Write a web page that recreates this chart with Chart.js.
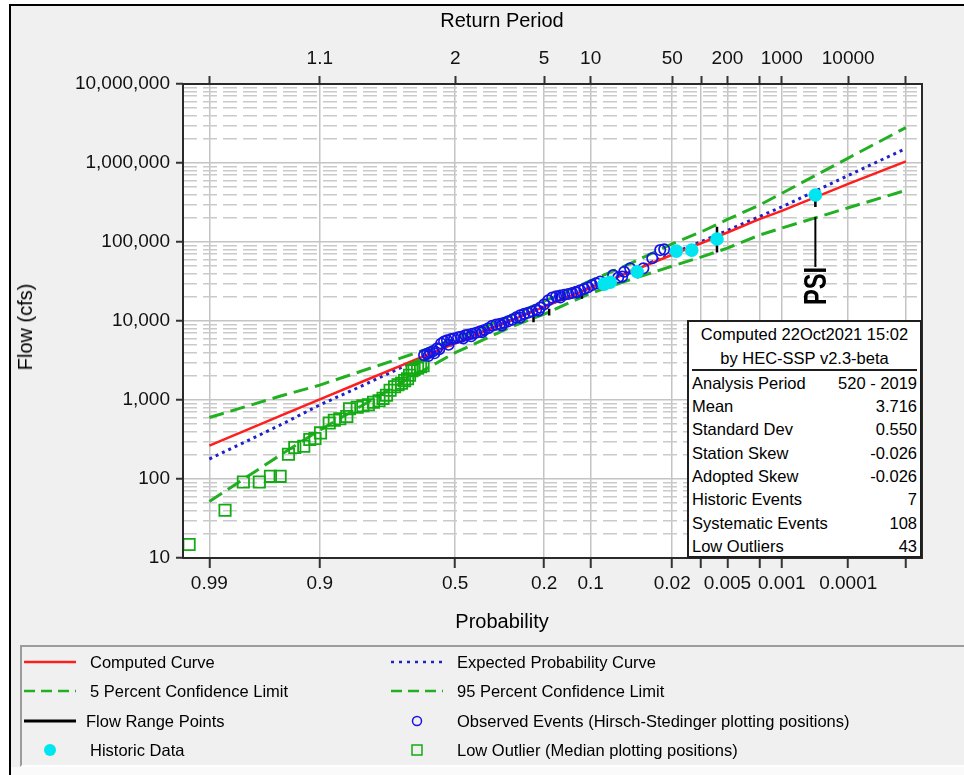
<!DOCTYPE html>
<html>
<head>
<meta charset="utf-8">
<script src="https://cdn.jsdelivr.net/npm/chart.js@4.4.1/dist/chart.umd.min.js"></script>
<style>
  html, body { margin: 0; padding: 0; background: #fff; }
  body { width: 964px; height: 775px; position: relative; overflow: hidden; font-family: 'Liberation Sans', Arial, sans-serif; color: #000; }
  #frame { position: absolute; left: 9px; top: 4px; width: 955px; height: 771px; background: #f0f0f0; border-left: 2px solid #000; border-top: 2px solid #000; box-sizing: border-box; }
  #bottomStrip { position: absolute; left: 11px; top: 767px; width: 953px; height: 8px; background: #fafafa; }
  #chart { position: absolute; left: 0; top: 0; }
  .title { position: absolute; font-size: 20px; line-height: 1; white-space: nowrap; transform: translate(-50%, -50%); }
  #yTitle { transform: translate(-50%, -50%) rotate(-90deg); }
  #stats { position: absolute; left: 687px; top: 320px; width: 235px; height: 238px; background: #fff; border: 2px solid #1e1e1e; box-sizing: border-box; font-size: 16.5px; }
  #stats .head { position: absolute; left: 0; right: 0; text-align: center; line-height: 20px; white-space: nowrap; }
  #stats .sep { position: absolute; left: 3px; right: 3px; top: 47px; height: 2px; background: #1e1e1e; }
  #stats .row { position: absolute; left: 3px; right: 3px; line-height: 20px; white-space: nowrap; }
  #stats .row span:last-child { position: absolute; right: 0; }
  #legendBox { position: absolute; left: 20px; top: 645px; width: 960px; height: 122px; border-top: 2px solid #9c9c9c; border-left: 2px solid #9c9c9c; border-bottom: 2px solid #fff; box-sizing: border-box; }
  .lg-sym { position: absolute; }
  .lg-text { position: absolute; font-size: 16.5px; line-height: 20px; white-space: nowrap; }
</style>
</head>
<body>
<div id="frame"></div>
<div id="bottomStrip"></div>
<canvas id="chart" width="964" height="775"></canvas>
<div class="title" style="left:502px; top:20px;">Return Period</div>
<div class="title" style="left:502px; top:621px;">Probability</div>
<div class="title" id="yTitle" style="left:25px; top:327px;">Flow (cfs)</div>
<div id="stats"></div>
<div id="legendBox"></div>
<script>
// ---- data (exceedance probability, flow in cfs) ----
const xMinProb = 0.995;
const xMaxProb = 0.000005;
const probTicks = [0.99, 0.9, 0.5, 0.2, 0.1, 0.02, 0.01, 0.005, 0.002, 0.001, 0.0001, 0.00001];
const probLabels = ['0.99', '0.9', '0.5', '0.2', '0.1', '0.02', '', '0.005', '', '0.001', '0.0001', ''];
const returnLabels = ['', '1.1', '2', '5', '10', '50', '', '200', '', '1000', '10000', ''];
const flowMin = 10;
const flowMax = 10000000;

const curveProb = [0.99, 0.95, 0.9, 0.8, 0.7, 0.5, 0.3, 0.2, 0.1, 0.05, 0.02, 0.01, 0.005, 0.002, 0.001, 0.0001, 0.00001];
const computedFlow = [265, 640, 1020, 1790, 2690, 5230, 10100, 15100, 26300, 41400, 68900, 96500, 132000, 195000, 248000, 545000, 1050000];
const expectedFlow = [179, 490, 865, 1600, 2530, 5230, 10150, 15200, 26700, 42300, 71500, 101000, 140000, 210000, 278000, 695000, 1530000];
const upperFlow = [600, 1130, 1545, 2430, 3360, 5890, 11600, 17800, 32400, 52500, 95000, 134000, 193000, 293000, 413000, 1155000, 2810000];
const lowerFlow = [52, 205, 415, 914, 1620, 3970, 8360, 12200, 22500, 32900, 49500, 64400, 83800, 122000, 150000, 271000, 451000];

const obsProb = [0.6158, 0.6049, 0.6, 0.594, 0.583, 0.578, 0.568, 0.56, 0.553, 0.542, 0.531, 0.525, 0.5155, 0.504,
  0.4892, 0.4777, 0.47, 0.4626, 0.4514, 0.44, 0.4364, 0.4215, 0.4067, 0.4, 0.392, 0.3775, 0.3635,
  0.3494, 0.3354, 0.33, 0.3217, 0.3082, 0.2949, 0.282, 0.27, 0.2693, 0.2569, 0.2451, 0.2333,
  0.2218, 0.215, 0.2107, 0.1999, 0.1894, 0.1793, 0.1698, 0.1604, 0.16, 0.1513, 0.1425, 0.1341,
  0.1261, 0.125, 0.1184, 0.111, 0.1042, 0.0975, 0.0911, 0.085, 0.0675, 0.0615, 0.0571,
  0.0549, 0.0489, 0.0375, 0.0311, 0.0262, 0.024];
const obsFlow = [3700, 3850, 3600, 4000, 4150, 3900, 4500, 4400, 5200, 5500, 5700, 5000, 5900, 6000,
  6200, 6300, 6000, 6600, 6700, 6400, 6900, 7100, 7400, 7200, 7700, 8100, 8700,
  9000, 9200, 8800, 9500, 9900, 10400, 11100, 11000, 11800, 12300, 12700, 13200,
  13900, 13500, 14800, 16300, 18300, 19800, 20500, 21000, 19800, 21500, 22000, 22600,
  23500, 22800, 24500, 25500, 26700, 28500, 30000, 31500, 38200, 35500, 36400,
  42000, 46400, 46400, 62200, 79000, 80700];

const lowProb = [0.9941, 0.9853, 0.9775, 0.9681, 0.9598, 0.9512, 0.9427, 0.9355, 0.9241, 0.9156,
  0.9077, 0.8988, 0.8834, 0.8737, 0.8626, 0.8475, 0.8413, 0.823, 0.8089, 0.7944,
  0.7802, 0.7645, 0.7527, 0.7422, 0.7311, 0.717, 0.7058, 0.6943, 0.684, 0.674,
  0.6671, 0.6584, 0.6514, 0.6391, 0.6285, 0.6194];
const lowFlow = [14.8, 40.2, 91.8, 91.8, 108, 108, 206, 250, 260, 316,
  325, 383, 512, 555, 580, 618, 776, 811, 847, 871,
  937, 980, 1050, 1150, 1330, 1470, 1560, 1630, 1760, 1860,
  2060, 2350, 2420, 2530, 2640, 2720];

const histProb = [0.0793, 0.0712, 0.0425, 0.0182, 0.0126, 0.00662, 0.000327];
const histFlow = [29300, 31000, 42000, 76700, 78900, 109000, 394000];

const rangeProb = [0.2294, 0.187, 0.168, 0.1527, 0.1153, 0.00662, 0.000327];
const rangeLow = [9660, 11700, 19100, 18200, 19100, 73800, 277000];
const rangeHigh = [12900, 14300, 22100, 22100, 23200, 156000, 394000];

const psiLabel = 'PSI';
const psiIndex = histProb.length - 1;

const statLabels = ['Analysis Period', 'Mean', 'Standard Dev', 'Station Skew', 'Adopted Skew', 'Historic Events', 'Systematic Events', 'Low Outliers'];
const statValues = ['520 - 2019', '3.716', '0.550', '-0.026', '-0.026', '7', '108', '43'];
const statHead = ['Computed 22Oct2021 15:02', 'by HEC-SSP v2.3-beta'];

// ---- probability axis helpers ----
function normInv(p) {
  const a = [-3.969683028665376e+01, 2.209460984245205e+02, -2.759285104469687e+02, 1.383577518672690e+02, -3.066479806614716e+01, 2.506628277459239e+00];
  const b = [-5.447609879822406e+01, 1.615858368580409e+02, -1.556989798598866e+02, 6.680131188771972e+01, -1.328068155288572e+01];
  const c = [-7.784894002430293e-03, -3.223964580411365e-01, -2.400758277161838e+00, -2.549732539343734e+00, 4.374664141464968e+00, 2.938163982698783e+00];
  const d = [7.784695709041462e-03, 3.224671290700398e-01, 2.445134137142996e+00, 3.754408661907416e+00];
  const plow = 0.02425;
  let q, r;
  if (p < plow) {
    q = Math.sqrt(-2 * Math.log(p));
    return (((((c[0]*q+c[1])*q+c[2])*q+c[3])*q+c[4])*q+c[5]) / ((((d[0]*q+d[1])*q+d[2])*q+d[3])*q+1);
  }
  if (p > 1 - plow) {
    q = Math.sqrt(-2 * Math.log(1 - p));
    return -(((((c[0]*q+c[1])*q+c[2])*q+c[3])*q+c[4])*q+c[5]) / ((((d[0]*q+d[1])*q+d[2])*q+d[3])*q+1);
  }
  q = p - 0.5; r = q * q;
  return (((((a[0]*r+a[1])*r+a[2])*r+a[3])*r+a[4])*r+a[5])*q / (((((b[0]*r+b[1])*r+b[2])*r+b[3])*r+b[4])*r+1);
}
// exceedance probability -> standard normal deviate (probability paper)
const toZ = p => -normInv(p);
const pts = (probs, flows) => probs.map((p, i) => ({ x: toZ(p), y: flows[i] }));
const isDecade = v => Math.abs(Math.log10(v) - Math.round(Math.log10(v))) < 1e-9;

const rangeData = [];
rangeProb.forEach((p, i) => {
  rangeData.push({ x: toZ(p), y: rangeLow[i] }, { x: toZ(p), y: rangeHigh[i] }, { x: toZ(p), y: null });
});

const family = "'Liberation Sans', Arial, sans-serif";
const GREEN = '#22b022';

const datasets = [
  { label: 'Historic Data', data: pts(histProb, histFlow), order: 0,
    pointStyle: 'circle', pointRadius: 6.8, backgroundColor: '#00e6f0', borderColor: '#00e6f0', borderWidth: 0 },
  { label: 'Observed Events (Hirsch-Stedinger plotting positions)', data: pts(obsProb, obsFlow), order: 1,
    pointStyle: 'circle', pointRadius: 5.2, backgroundColor: 'rgba(0,0,0,0)', borderColor: '#1414e6', borderWidth: 1.7 },
  { label: 'Low Outlier (Median plotting positions)', data: pts(lowProb, lowFlow), order: 2,
    pointStyle: 'rect', pointRadius: 8, backgroundColor: 'rgba(0,0,0,0)', borderColor: '#14aa14', borderWidth: 1.8 },
  { label: 'Flow Range Points', data: rangeData, order: 3, showLine: true, spanGaps: false,
    pointRadius: 0, borderColor: '#000', borderWidth: 2.5 },
  { label: 'Computed Curve', data: pts(curveProb, computedFlow), order: 4, showLine: true,
    pointRadius: 0, borderColor: '#ff1e1e', borderWidth: 2.5 },
  { label: 'Expected Probability Curve', data: pts(curveProb, expectedFlow), order: 5, showLine: true,
    pointRadius: 0, borderColor: '#2020c8', borderWidth: 3, borderDash: [3, 4] },
  { label: '5 Percent Confidence Limit', data: pts(curveProb, upperFlow), order: 6, showLine: true,
    pointRadius: 0, borderColor: GREEN, borderWidth: 3, borderDash: [15, 7] },
  { label: '95 Percent Confidence Limit', data: pts(curveProb, lowerFlow), order: 7, showLine: true,
    pointRadius: 0, borderColor: GREEN, borderWidth: 3, borderDash: [15, 7] }
];

// plot background, frame and the PSI annotation
const plotFrame = {
  id: 'plotFrame',
  beforeDraw(chart) {
    const { ctx, chartArea: a } = chart;
    ctx.save();
    ctx.fillStyle = '#fff';
    ctx.fillRect(a.left, a.top, a.right - a.left, a.bottom - a.top);
    ctx.restore();
  },
  afterDatasetsDraw(chart) {
    const { ctx, chartArea: a, scales } = chart;
    ctx.save();
    ctx.strokeStyle = '#2a2a2a';
    ctx.lineWidth = 2;
    ctx.strokeRect(a.left, a.top, a.right - a.left, a.bottom - a.top);

    const px = scales.x.getPixelForValue(toZ(histProb[psiIndex]));
    const py = scales.y.getPixelForValue(histFlow[psiIndex]);
    ctx.strokeStyle = '#000';
    ctx.beginPath();
    ctx.moveTo(px, py + 22);
    ctx.lineTo(px, py + 72);
    ctx.stroke();
    ctx.translate(px + 1, py + 91);
    ctx.rotate(-Math.PI / 2);
    ctx.scale(0.82, 1.05);
    ctx.fillStyle = '#000';
    ctx.font = "bold 29px " + family;
    ctx.textAlign = 'center';
    ctx.textBaseline = 'middle';
    ctx.fillText(psiLabel, 0, 1);
    ctx.restore();
  }
};

const tickFont = { size: 19, family: family };
const zMin = toZ(xMinProb), zMax = toZ(xMaxProb);

const chart = new Chart(document.getElementById('chart'), {
  type: 'scatter',
  data: { datasets: datasets },
  options: {
    responsive: false,
    animation: false,
    devicePixelRatio: 1,
    layout: { padding: { left: 0, top: 0, right: 42, bottom: 137 } },
    plugins: { legend: { display: false }, tooltip: { enabled: false } },
    scales: {
      x: {
        type: 'linear', position: 'bottom', min: zMin, max: zMax,
        afterBuildTicks: s => { s.ticks = probTicks.map(p => ({ value: toZ(p) })); },
        afterFit: s => { s.height = 80; },
        ticks: { autoSkip: false, maxRotation: 0, font: tickFont, color: '#111', padding: 4,
          callback: (v, i) => probLabels[i] },
        grid: { color: '#c4c4c4', lineWidth: 1.5, tickLength: 10, tickColor: '#333', tickWidth: 2 },
        border: { display: false }
      },
      xTop: {
        type: 'linear', position: 'top', min: zMin, max: zMax,
        afterBuildTicks: s => { s.ticks = probTicks.map(p => ({ value: toZ(p) })); },
        afterFit: s => { s.height = 84; },
        ticks: { autoSkip: false, maxRotation: 0, font: tickFont, color: '#111', padding: 6,
          callback: (v, i) => returnLabels[i] },
        grid: { drawOnChartArea: false, tickLength: 8, tickColor: '#333', tickWidth: 2 },
        border: { display: false }
      },
      y: {
        type: 'logarithmic', position: 'left', min: flowMin, max: flowMax,
        afterBuildTicks: s => {
          const t = [];
          for (let v = flowMin; v < flowMax; v *= 10) {
            for (let m = 1; m < 10; m++) t.push({ value: m * v });
          }
          t.push({ value: flowMax });
          s.ticks = t;
        },
        afterFit: s => { s.width = 183; },
        ticks: { autoSkip: false, font: tickFont, color: '#111', padding: 6,
          callback: v => isDecade(v) ? Math.round(v).toLocaleString('en-US') : '' },
        grid: {
          color: c => (c.tick && isDecade(c.tick.value)) ? '#c4c4c4' : '#cacaca',
          lineWidth: 1.5, tickLength: 7, tickWidth: 2,
          tickColor: c => (c.tick && isDecade(c.tick.value)) ? '#333' : 'rgba(0,0,0,0)'
        },
        border: { display: false, dash: c => (c.tick && !isDecade(c.tick.value)) ? [14, 6] : [] }
      }
    }
  },
  plugins: [plotFrame]
});

// ---- statistics box ----
const stats = document.getElementById('stats');
statHead.forEach((t, i) => {
  const d = document.createElement('div');
  d.className = 'head';
  d.style.top = (2 + i * 24) + 'px';
  d.textContent = t;
  stats.appendChild(d);
});
const sep = document.createElement('div');
sep.className = 'sep';
stats.appendChild(sep);
statLabels.forEach((t, i) => {
  const d = document.createElement('div');
  d.className = 'row';
  d.style.top = (50.7 + i * 23.35) + 'px';
  d.innerHTML = '<span></span><span></span>';
  d.children[0].textContent = t;
  d.children[1].textContent = statValues[i];
  stats.appendChild(d);
});

// ---- legend, built from the dataset styles ----
const legendCols = [
  { sym: 24, text: 90, labels: ['Computed Curve', '5 Percent Confidence Limit', 'Flow Range Points', 'Historic Data'] },
  { sym: 391, text: 457, labels: ['Expected Probability Curve', '95 Percent Confidence Limit', 'Observed Events (Hirsch-Stedinger plotting positions)', 'Low Outlier (Median plotting positions)'] }
];
const legendRows = [661.5, 690.7, 720.5, 750];
legendCols.forEach(col => {
  col.labels.forEach((label, r) => {
    const ds = datasets.find(d => d.label === label);
    const yc = legendRows[r];
    const svgNS = 'http://www.w3.org/2000/svg';
    const svg = document.createElementNS(svgNS, 'svg');
    svg.setAttribute('width', 54); svg.setAttribute('height', 16);
    svg.setAttribute('class', 'lg-sym');
    svg.style.left = col.sym + 'px'; svg.style.top = (yc - 8) + 'px';
    let el;
    if (ds.showLine) {
      el = document.createElementNS(svgNS, 'line');
      el.setAttribute('x1', 0); el.setAttribute('x2', 52); el.setAttribute('y1', 8); el.setAttribute('y2', 8);
      el.setAttribute('stroke', ds.borderColor);
      el.setAttribute('stroke-width', ds.label === 'Flow Range Points' ? 3 : 2.5);
      if (ds.borderDash) el.setAttribute('stroke-dasharray', ds.label.indexOf('Confidence') >= 0 ? '11 6' : '3 5');
    } else if (ds.pointStyle === 'rect') {
      el = document.createElementNS(svgNS, 'rect');
      el.setAttribute('x', 21); el.setAttribute('y', 3); el.setAttribute('width', 10); el.setAttribute('height', 10);
      el.setAttribute('fill', 'none'); el.setAttribute('stroke', ds.borderColor); el.setAttribute('stroke-width', 1.5);
    } else {
      el = document.createElementNS(svgNS, 'circle');
      el.setAttribute('cx', 26); el.setAttribute('cy', 8);
      if (ds.borderWidth) {
        el.setAttribute('r', 4.5); el.setAttribute('fill', 'none');
        el.setAttribute('stroke', ds.borderColor); el.setAttribute('stroke-width', 1.5);
      } else {
        el.setAttribute('r', 6); el.setAttribute('fill', ds.backgroundColor);
      }
    }
    svg.appendChild(el);
    document.body.appendChild(svg);
    const t = document.createElement('div');
    t.className = 'lg-text';
    t.style.left = (label === 'Flow Range Points' ? col.text - 4 : col.text) + 'px';
    t.style.top = (yc - 10) + 'px';
    t.textContent = label;
    document.body.appendChild(t);
  });
});
</script>
</body>
</html>
